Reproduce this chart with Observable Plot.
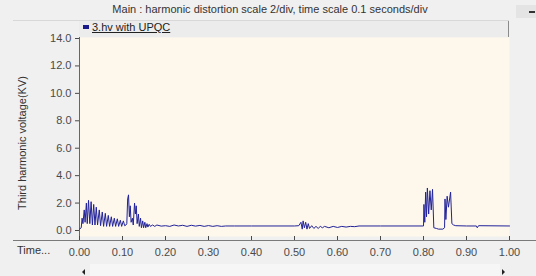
<!DOCTYPE html>
<html>
<head>
<meta charset="utf-8">
<script src="https://cdn.jsdelivr.net/npm/d3@7"></script>
<script src="https://cdn.jsdelivr.net/npm/@observablehq/plot@0.6"></script>
<style>
  html, body { margin: 0; padding: 0; background: #f0f0f0; }
  #wrap { position: relative; width: 536px; height: 276px; overflow: hidden; background: #f0f0f0;
          font-family: "Liberation Sans", Arial, sans-serif; }
  #wrap svg { position: absolute; left: 0; top: 0; }
  .abs { position: absolute; white-space: nowrap; }
</style>
</head>
<body>
<div id="wrap"></div>
<script>
// ---- data ----
const title = "Main : harmonic distortion scale 2/div, time scale 0.1 seconds/div";
const seriesName = "3.hv with UPQC";
const yLabel = "Third harmonic voltage(KV)";
const xLabel = "Time...";
const yTicks = [0, 2, 4, 6, 8, 10, 12, 14];
const xTicks = [0, 0.1, 0.2, 0.3, 0.4, 0.5, 0.6, 0.7, 0.8, 0.9, 1.0];

const time = [
  0.000, 0.004, 0.006, 0.008, 0.011, 0.013, 0.016, 0.018, 0.021, 0.024,
  0.027, 0.030, 0.033, 0.036, 0.039, 0.042, 0.046, 0.049, 0.053, 0.056,
  0.060, 0.063, 0.067, 0.070, 0.074, 0.077, 0.081, 0.084, 0.088, 0.091,
  0.095, 0.098, 0.102, 0.105, 0.108, 0.110, 0.112, 0.114, 0.116, 0.118,
  0.120, 0.123, 0.125, 0.128, 0.130, 0.132, 0.134, 0.137, 0.139, 0.142,
  0.144, 0.147, 0.149, 0.152, 0.154, 0.157, 0.159, 0.162, 0.165, 0.170,
  0.175, 0.180, 0.190, 0.200, 0.210, 0.220, 0.230, 0.240, 0.250, 0.260,
  0.270, 0.280, 0.290, 0.300, 0.310, 0.320, 0.330, 0.340, 0.360, 0.400,
  0.450, 0.500, 0.510, 0.515, 0.518, 0.520, 0.523, 0.526, 0.529, 0.532,
  0.535, 0.540, 0.545, 0.550, 0.555, 0.560, 0.565, 0.570, 0.580, 0.590,
  0.600, 0.610, 0.620, 0.630, 0.640, 0.650, 0.700, 0.750, 0.800, 0.801,
  0.803, 0.805, 0.807, 0.809, 0.812, 0.815, 0.818, 0.821, 0.824, 0.830,
  0.835, 0.845, 0.849, 0.850, 0.852, 0.855, 0.858, 0.863, 0.866, 0.870,
  0.875, 0.900, 0.923, 0.925, 0.928, 1.000
];
const voltage = [
  0.10, 0.20, 0.90, 0.50, 1.50, 0.60, 2.00, 0.50, 2.20, 0.50,
  2.10, 0.40, 1.90, 0.40, 1.70, 0.40, 1.50, 0.35, 1.35, 0.30,
  1.25, 0.30, 1.10, 0.30, 1.00, 0.30, 0.90, 0.30, 0.85, 0.30,
  0.75, 0.30, 0.70, 0.35, 0.40, 0.50, 2.30, 2.60, 1.00, 1.80,
  0.60, 0.90, 0.40, 2.00, 1.20, 1.80, 0.50, 1.20, 0.30, 0.90,
  0.20, 0.70, 0.20, 0.60, 0.20, 0.50, 0.25, 0.45, 0.30, 0.40,
  0.30, 0.40, 0.32, 0.35, 0.30, 0.40, 0.33, 0.38, 0.30, 0.38,
  0.32, 0.37, 0.30, 0.36, 0.30, 0.35, 0.30, 0.33, 0.33, 0.33,
  0.33, 0.33, 0.35, 0.60, 0.10, 0.70, 0.20, 0.60, 0.10, 0.50,
  0.15, 0.35, 0.15, 0.30, 0.15, 0.30, 0.20, 0.30, 0.20, 0.30,
  0.22, 0.30, 0.25, 0.30, 0.28, 0.33, 0.33, 0.33, 0.33, 1.90,
  0.60, 2.80, 1.00, 3.10, 1.20, 2.90, 1.50, 3.00, 0.20, 0.15,
  0.10, 0.10, 0.20, 2.30, 0.80, 2.50, 1.70, 2.80, 0.50, 0.40,
  0.35, 0.33, 0.33, 0.20, 0.35, 0.33
];

const data = time.map((t, i) => ({t, v: voltage[i]}));

const plot = Plot.plot({
  width: 536,
  height: 276,
  marginLeft: 79,
  marginRight: 27,
  marginTop: 37,
  marginBottom: 40,
  style: {background: "transparent", fontFamily: "Liberation Sans, Arial, sans-serif", fontSize: "11px", color: "#444"},
  x: {domain: [0, 1]},
  y: {domain: [-0.4375, 14.073]},
  marks: [
    Plot.frame({fill: "#fdf8eb", stroke: null}),
    Plot.axisY({ticks: yTicks, tickFormat: d => d.toFixed(1), tickSize: 4, tickPadding: 4, label: null, fontSize: 11, color: "#4a4a4a"}),
    Plot.axisX({ticks: xTicks, tickFormat: d => d.toFixed(2), tickSize: 4, tickPadding: 8, label: null, fontSize: 11, color: "#4a4a4a"}),
    Plot.ruleX([0], {stroke: "#666"}),
    Plot.line(data, {x: "t", y: "v", stroke: "#22229a", strokeWidth: 1})
  ]
});
const wrap = document.getElementById("wrap");
wrap.appendChild(plot);

function add(html, style) {
  const d = document.createElement("div");
  d.className = "abs";
  d.innerHTML = html;
  Object.assign(d.style, style);
  wrap.appendChild(d);
  return d;
}
// top title bar
add("", {left: "13px", top: "20px", width: "496px", height: "1px", background: "#d8d8d8"});
add(title, {left: "0px", top: "3px", width: "540px", textAlign: "center", fontSize: "11px", color: "#333"});
add("", {left: "516px", top: "5px", width: "20px", height: "13px", background: "#e4e4e4"});
add("", {left: "529px", top: "11px", width: "6px", height: "2px", background: "#333"});
// legend bar
add("", {left: "79px", top: "21px", width: "429px", height: "16px", background: "#ececec", borderRight: "1px solid #8a8a8a"});
add("", {left: "83px", top: "25px", width: "6px", height: "4px", background: "#1a1a8c"});
add(seriesName, {left: "92px", top: "21px", fontSize: "11px", color: "#222", textDecoration: "underline"});
// y label
add(yLabel, {left: "22px", top: "143px", fontSize: "11px", color: "#333", transform: "translate(-50%,-50%) rotate(-90deg)"});
// x axis line & label
add("", {left: "13px", top: "240px", width: "523px", height: "1px", background: "#7a7a7a"});
add(xLabel, {left: "17px", top: "244px", fontSize: "11px", color: "#333"});
// scrollbar
add("", {left: "90px", top: "264px", width: "410px", height: "12px", background: "#f6f6f6"});
add("", {left: "82px", top: "269px", width: "0", height: "0", borderTop: "3px solid transparent", borderBottom: "3px solid transparent", borderRight: "3px solid #222"});
add("", {left: "502px", top: "269px", width: "0", height: "0", borderTop: "3px solid transparent", borderBottom: "3px solid transparent", borderLeft: "3px solid #222"});
</script>
</body>
</html>
